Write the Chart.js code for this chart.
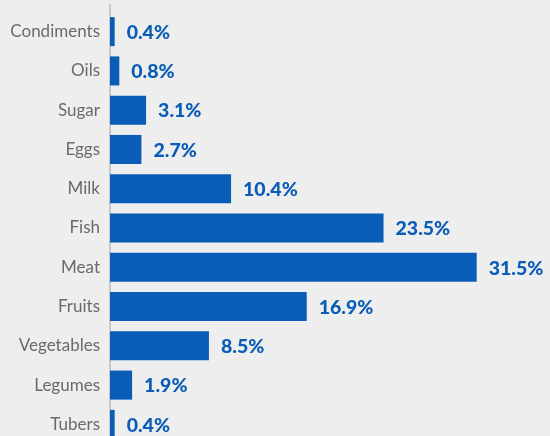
<!DOCTYPE html>
<html>
<head>
<meta charset="utf-8">
<script src="https://cdn.jsdelivr.net/npm/chart.js@4"></script>
<style>
  html, body { margin: 0; padding: 0; background: #eeeeee; overflow: hidden; }
  canvas { display: block; }
</style>
</head>
<body>
<canvas id="chart" width="550" height="444" style="width:550px;height:444px"></canvas>
<script>
const categories = ["Condiments", "Oils", "Sugar", "Eggs", "Milk", "Fish", "Meat", "Fruits", "Vegetables", "Legumes", "Tubers"];
const shares = [0.4, 0.8, 3.1, 2.7, 10.4, 23.5, 31.5, 16.9, 8.5, 1.9, 0.4];
const valueLabels = ["0.4%", "0.8%", "3.1%", "2.7%", "10.4%", "23.5%", "31.5%", "16.9%", "8.5%", "1.9%", "0.4%"];

const blue = "#0a5db6";

// value labels at the end of each bar
const barLabels = {
  id: "barLabels",
  afterDatasetsDraw(chart) {
    const ctx = chart.ctx;
    const meta = chart.getDatasetMeta(0);
    ctx.save();
    ctx.font = "900 19.5px Lato";
    ctx.fillStyle = blue;
    ctx.textBaseline = "middle";
    ctx.textAlign = "left";
    meta.data.forEach((bar, i) => {
      ctx.fillText(valueLabels[i], bar.x + 12, bar.y + 1);
    });
    ctx.restore();
  }
};

// vertical axis line running up past the first bar
const axisLine = {
  id: "axisLine",
  beforeDatasetsDraw(chart) {
    const ctx = chart.ctx;
    const x = chart.chartArea.left;
    ctx.save();
    ctx.strokeStyle = "#c8c8c8";
    ctx.lineWidth = 2;
    ctx.beginPath();
    ctx.moveTo(x, 4);
    ctx.lineTo(x, chart.height);
    ctx.stroke();
    ctx.restore();
  }
};

new Chart(document.getElementById("chart"), {
  type: "bar",
  data: {
    labels: categories,
    datasets: [{
      data: shares,
      backgroundColor: blue,
      barPercentage: 0.74,
      categoryPercentage: 1.0
    }]
  },
  options: {
    indexAxis: "y",
    responsive: false,
    animation: false,
    layout: {padding: {top: 12, right: 0, bottom: 0, left: 0}},
    plugins: {legend: {display: false}, tooltip: {enabled: false}},
    scales: {
      x: {display: false, min: 0, max: 37.8},
      y: {
        afterFit(scale) {
          scale.width = 110;
          scale.paddingTop = 0;
          scale.paddingBottom = 0;
        },
        grid: {display: false, drawTicks: false},
        border: {display: false},
        ticks: {color: "#6a6a6a", font: {family: "Lato", size: 17}, padding: 10}
      }
    }
  },
  plugins: [axisLine, barLabels]
});
</script>
</body>
</html>
